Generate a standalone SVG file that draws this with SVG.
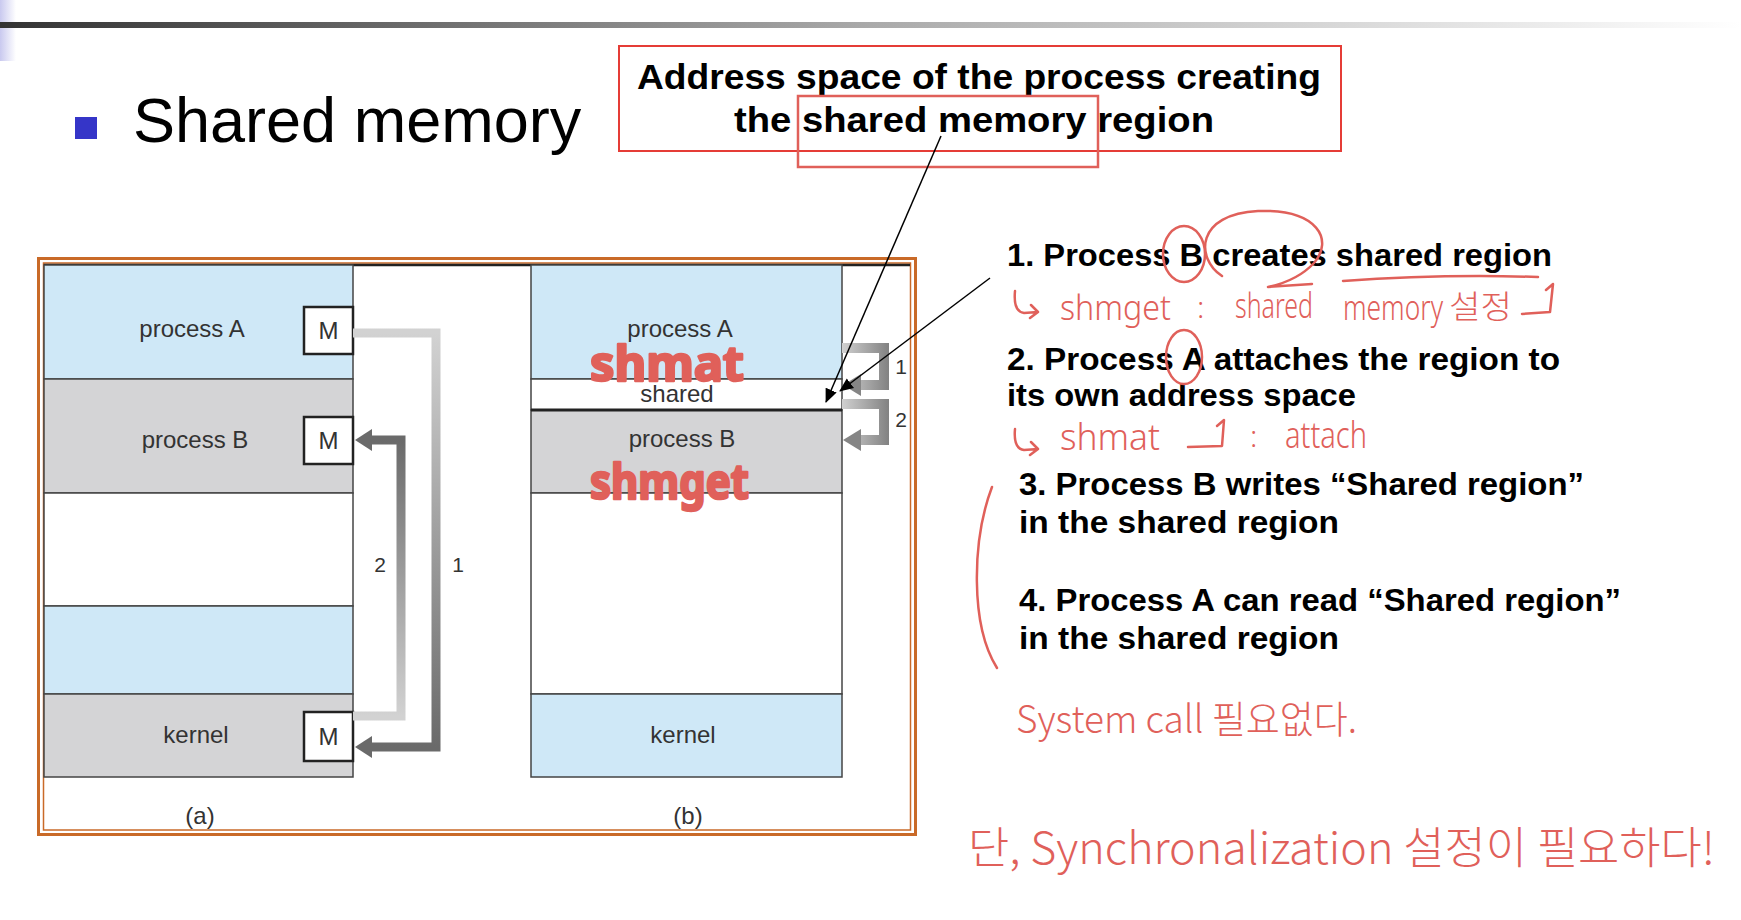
<svg xmlns="http://www.w3.org/2000/svg" width="1741" height="920" viewBox="0 0 1741 920">
<style>
.lbl{font-family:"Liberation Sans",Arial,sans-serif;font-size:24px;fill:#333;text-anchor:middle}
.num{font-family:"Liberation Sans",Arial,sans-serif;font-size:21px;fill:#333;text-anchor:middle}
.bold{font-family:"Liberation Sans",Arial,sans-serif;font-weight:bold;fill:#000}
.hw{font-family:"Noto Sans","Noto Sans CJK KR",sans-serif;fill:#e0605a;font-weight:300}
.hwbig{font-family:"Noto Sans","Noto Sans CJK KR",sans-serif;fill:#e0605a;stroke:#e0605a;stroke-width:2.5;stroke-linejoin:round;font-weight:bold}
.hwk{font-family:"Noto Sans CJK KR",sans-serif;fill:#e0605a;font-weight:300}
.mark{fill:none;stroke:#e0605a;stroke-width:2.5;stroke-linecap:round;stroke-linejoin:round}
.blue{fill:#cfe8f7;stroke:#444;stroke-width:1.5}
.gray{fill:#d4d4d6;stroke:#444;stroke-width:1.5}
.white{fill:#fff;stroke:#444;stroke-width:1.5}
.mbox{fill:#fff;stroke:#222;stroke-width:2.5}
</style>
<defs>
<linearGradient id="topbar" x1="0" y1="0" x2="1" y2="0">
<stop offset="0" stop-color="#333"/><stop offset="0.5" stop-color="#aaa"/><stop offset="1" stop-color="#fff"/>
</linearGradient>
<linearGradient id="lav" x1="0" y1="0" x2="1" y2="0">
<stop offset="0" stop-color="#c9c9ef"/><stop offset="1" stop-color="#fff"/>
</linearGradient>
<linearGradient id="g1" gradientUnits="userSpaceOnUse" x1="0" y1="333" x2="0" y2="747">
<stop offset="0" stop-color="#d2d2d2"/><stop offset="1" stop-color="#6a6a6a"/>
</linearGradient>
<linearGradient id="g2" gradientUnits="userSpaceOnUse" x1="0" y1="716" x2="0" y2="440">
<stop offset="0" stop-color="#d2d2d2"/><stop offset="1" stop-color="#6a6a6a"/>
</linearGradient>
<linearGradient id="gb" gradientUnits="userSpaceOnUse" x1="842" y1="0" x2="890" y2="0">
<stop offset="0" stop-color="#d0d0d0"/><stop offset="1" stop-color="#808080"/>
</linearGradient>
<marker id="ah2" viewBox="0 0 14 14" refX="13" refY="7" markerWidth="14" markerHeight="14" markerUnits="userSpaceOnUse" orient="auto">
<path d="M0,1 L14,7 L0,13 z" fill="#000"/>
</marker>
</defs>
<rect width="1741" height="920" fill="#fff"/>
<!-- slide decorations -->
<rect x="0" y="0" width="16" height="61" fill="url(#lav)"/>
<rect x="0" y="22" width="1741" height="6" fill="url(#topbar)"/>
<rect id="bullet" x="75" y="117" width="22" height="22" fill="#3535c8"/>
<text id="heading" x="133" y="142" font-family="Liberation Sans,Arial,sans-serif" font-size="63" fill="#000">Shared memory</text>

<!-- title callout -->
<g id="title-box">
<rect x="619" y="46" width="722" height="105" fill="none" stroke="#e53c36" stroke-width="2"/>
<text class="bold" x="637" y="89" font-size="35" textLength="684" lengthAdjust="spacingAndGlyphs">Address space of the process creating</text>
<text class="bold" x="734" y="132" font-size="35" textLength="480" lengthAdjust="spacingAndGlyphs">the shared memory region</text>
<rect x="798" y="96" width="300" height="71" fill="none" stroke="#e0605a" stroke-width="2.5"/>
</g>

<!-- figure frame -->
<g id="frame">
<rect x="38.5" y="258.5" width="877" height="576" fill="none" stroke="#c96a28" stroke-width="3"/>
<rect x="43.5" y="263" width="867" height="567" fill="none" stroke="#c96a28" stroke-width="1.5"/>
<line x1="44" y1="265" x2="910" y2="265" stroke="#222" stroke-width="2.5"/>
</g>

<!-- (a) -->
<g id="a-processA"><rect class="blue" x="44" y="265" width="309" height="114"/><text class="lbl" x="192" y="337">process A</text></g>
<g id="a-processB"><rect class="gray" x="44" y="379" width="309" height="114"/><text class="lbl" x="195" y="448">process B</text></g>
<g id="a-free"><rect class="white" x="44" y="493" width="309" height="113"/></g>
<g id="a-blue2"><rect class="blue" x="44" y="606" width="309" height="88"/></g>
<g id="a-kernel"><rect class="gray" x="44" y="694" width="309" height="83"/><text class="lbl" x="196" y="743">kernel</text></g>
<g id="a-MA"><rect class="mbox" x="304" y="307" width="49" height="47"/><text class="lbl" x="328.5" y="339">M</text></g>
<g id="a-MB"><rect class="mbox" x="304" y="417" width="49" height="47"/><text class="lbl" x="328.5" y="449">M</text></g>
<g id="a-MK"><rect class="mbox" x="304" y="712" width="49" height="49"/><text class="lbl" x="328.5" y="745">M</text></g>
<text class="lbl" x="200" y="824">(a)</text>

<!-- (b) -->
<g id="b-processA"><rect class="blue" x="531" y="265" width="311" height="114"/><text class="lbl" x="680" y="337">process A</text></g>
<g id="b-shared"><rect class="white" x="531" y="379" width="311" height="31"/><text class="lbl" x="677" y="402">shared</text></g>
<g id="b-processB"><rect class="gray" x="531" y="410" width="311" height="83"/><text class="lbl" x="682" y="447">process B</text></g>
<line x1="531" y1="410" x2="842" y2="410" stroke="#222" stroke-width="3"/>
<g id="b-free"><rect class="white" x="531" y="493" width="311" height="201"/></g>
<g id="b-kernel"><rect class="blue" x="531" y="694" width="311" height="83"/><text class="lbl" x="683" y="743">kernel</text></g>
<text class="lbl" x="688" y="824">(b)</text>

<!-- connectors -->
<g id="connectors">
<path d="M353,333 H436 V747 H370" fill="none" stroke="url(#g1)" stroke-width="9"/>
<polygon points="355,747 372,736 372,758" fill="#6a6a6a"/>
<path d="M353,716 H401 V440 H370" fill="none" stroke="url(#g2)" stroke-width="9"/>
<polygon points="355,440 372,429 372,451" fill="#6a6a6a"/>
<text class="num" x="380" y="572">2</text>
<text class="num" x="458" y="572">1</text>

<path d="M842,348 H884 V385 H858" fill="none" stroke="url(#gb)" stroke-width="10"/>
<polygon points="843,385 861,374 861,396" fill="#858585"/>
<path d="M842,404 H884 V440 H858" fill="none" stroke="url(#gb)" stroke-width="10"/>
<polygon points="843,440 861,429 861,451" fill="#858585"/>
<text class="num" x="901" y="374">1</text>
<text class="num" x="901" y="427">2</text>

<line x1="941" y1="136" x2="826" y2="402" stroke="#000" stroke-width="1.5" marker-end="url(#ah2)"/>
<line x1="990" y1="278" x2="840" y2="391" stroke="#000" stroke-width="1.5" marker-end="url(#ah2)"/>
</g>

<!-- steps -->
<g id="steps">
<text class="bold" x="1007" y="266" font-size="32" textLength="545" lengthAdjust="spacingAndGlyphs">1. Process B creates shared region</text>
<text class="bold" x="1007" y="370" font-size="32" textLength="553" lengthAdjust="spacingAndGlyphs">2. Process A attaches the region to</text>
<text class="bold" x="1007" y="406" font-size="32" textLength="349" lengthAdjust="spacingAndGlyphs">its own address space</text>
<text class="bold" x="1019" y="495" font-size="32" textLength="565" lengthAdjust="spacingAndGlyphs">3. Process B writes “Shared region”</text>
<text class="bold" x="1019" y="533" font-size="32" textLength="320" lengthAdjust="spacingAndGlyphs">in the shared region</text>
<text class="bold" x="1019" y="611" font-size="32" textLength="602" lengthAdjust="spacingAndGlyphs">4. Process A can read “Shared region”</text>
<text class="bold" x="1019" y="649" font-size="32" textLength="320" lengthAdjust="spacingAndGlyphs">in the shared region</text>
</g>

<!-- handwritten annotations -->
<g id="annotations">
<text class="hwbig" x="590" y="381" font-size="48" textLength="154" lengthAdjust="spacingAndGlyphs">shmat</text>
<text class="hwbig" x="590" y="499" font-size="48" textLength="159" lengthAdjust="spacingAndGlyphs">shmget</text>

<ellipse class="mark" cx="1184" cy="254" rx="21" ry="28"/>
<path class="mark" d="M1222,276 C1195,258 1196,214 1258,211 C1318,209 1334,240 1314,263 C1300,278 1282,284 1268,287 L1312,284"/>
<path class="mark" d="M1343,281 Q1440,274 1538,277"/>
<ellipse class="mark" cx="1184" cy="357" rx="18" ry="27"/>

<path class="mark" d="M1015,291 C1014,302 1016,312 1024,313 L1038,312 M1031,305 L1038,312 L1030,318"/>
<text class="hw" x="1060" y="320" font-size="34" textLength="111" lengthAdjust="spacingAndGlyphs">shmget</text>
<text class="hw" x="1197" y="318" font-size="30">:</text>
<text class="hw" x="1235" y="318" font-size="34" textLength="78" lengthAdjust="spacingAndGlyphs">shared</text>
<text class="hw" x="1343" y="320" font-size="34" textLength="100" lengthAdjust="spacingAndGlyphs">memory</text>
<text class="hwk" x="1449" y="318" font-size="32" textLength="63" lengthAdjust="spacingAndGlyphs">설정</text>
<path class="mark" d="M1522,314 L1550,312 L1553,284 L1546,290"/>

<path class="mark" d="M1015,429 C1014,440 1016,449 1024,450 L1038,449 M1031,442 L1038,449 L1030,455"/>
<text class="hw" x="1060" y="450" font-size="36" textLength="100" lengthAdjust="spacingAndGlyphs">shmat</text>
<path class="mark" d="M1188,447 L1222,446 L1224,420 L1217,426"/>
<text class="hw" x="1250" y="447" font-size="30">:</text>
<text class="hw" x="1285" y="448" font-size="36" textLength="82" lengthAdjust="spacingAndGlyphs">attach</text>

<path class="mark" d="M992,487 C972,540 970,625 997,668"/>
<text class="hwk" x="1016" y="733" font-size="38" textLength="341" lengthAdjust="spacingAndGlyphs">System call 필요없다.</text>
<text class="hwk" x="968" y="864" font-size="44" textLength="747" lengthAdjust="spacingAndGlyphs">단, Synchronalization 설정이 필요하다!</text>
</g>
</svg>
